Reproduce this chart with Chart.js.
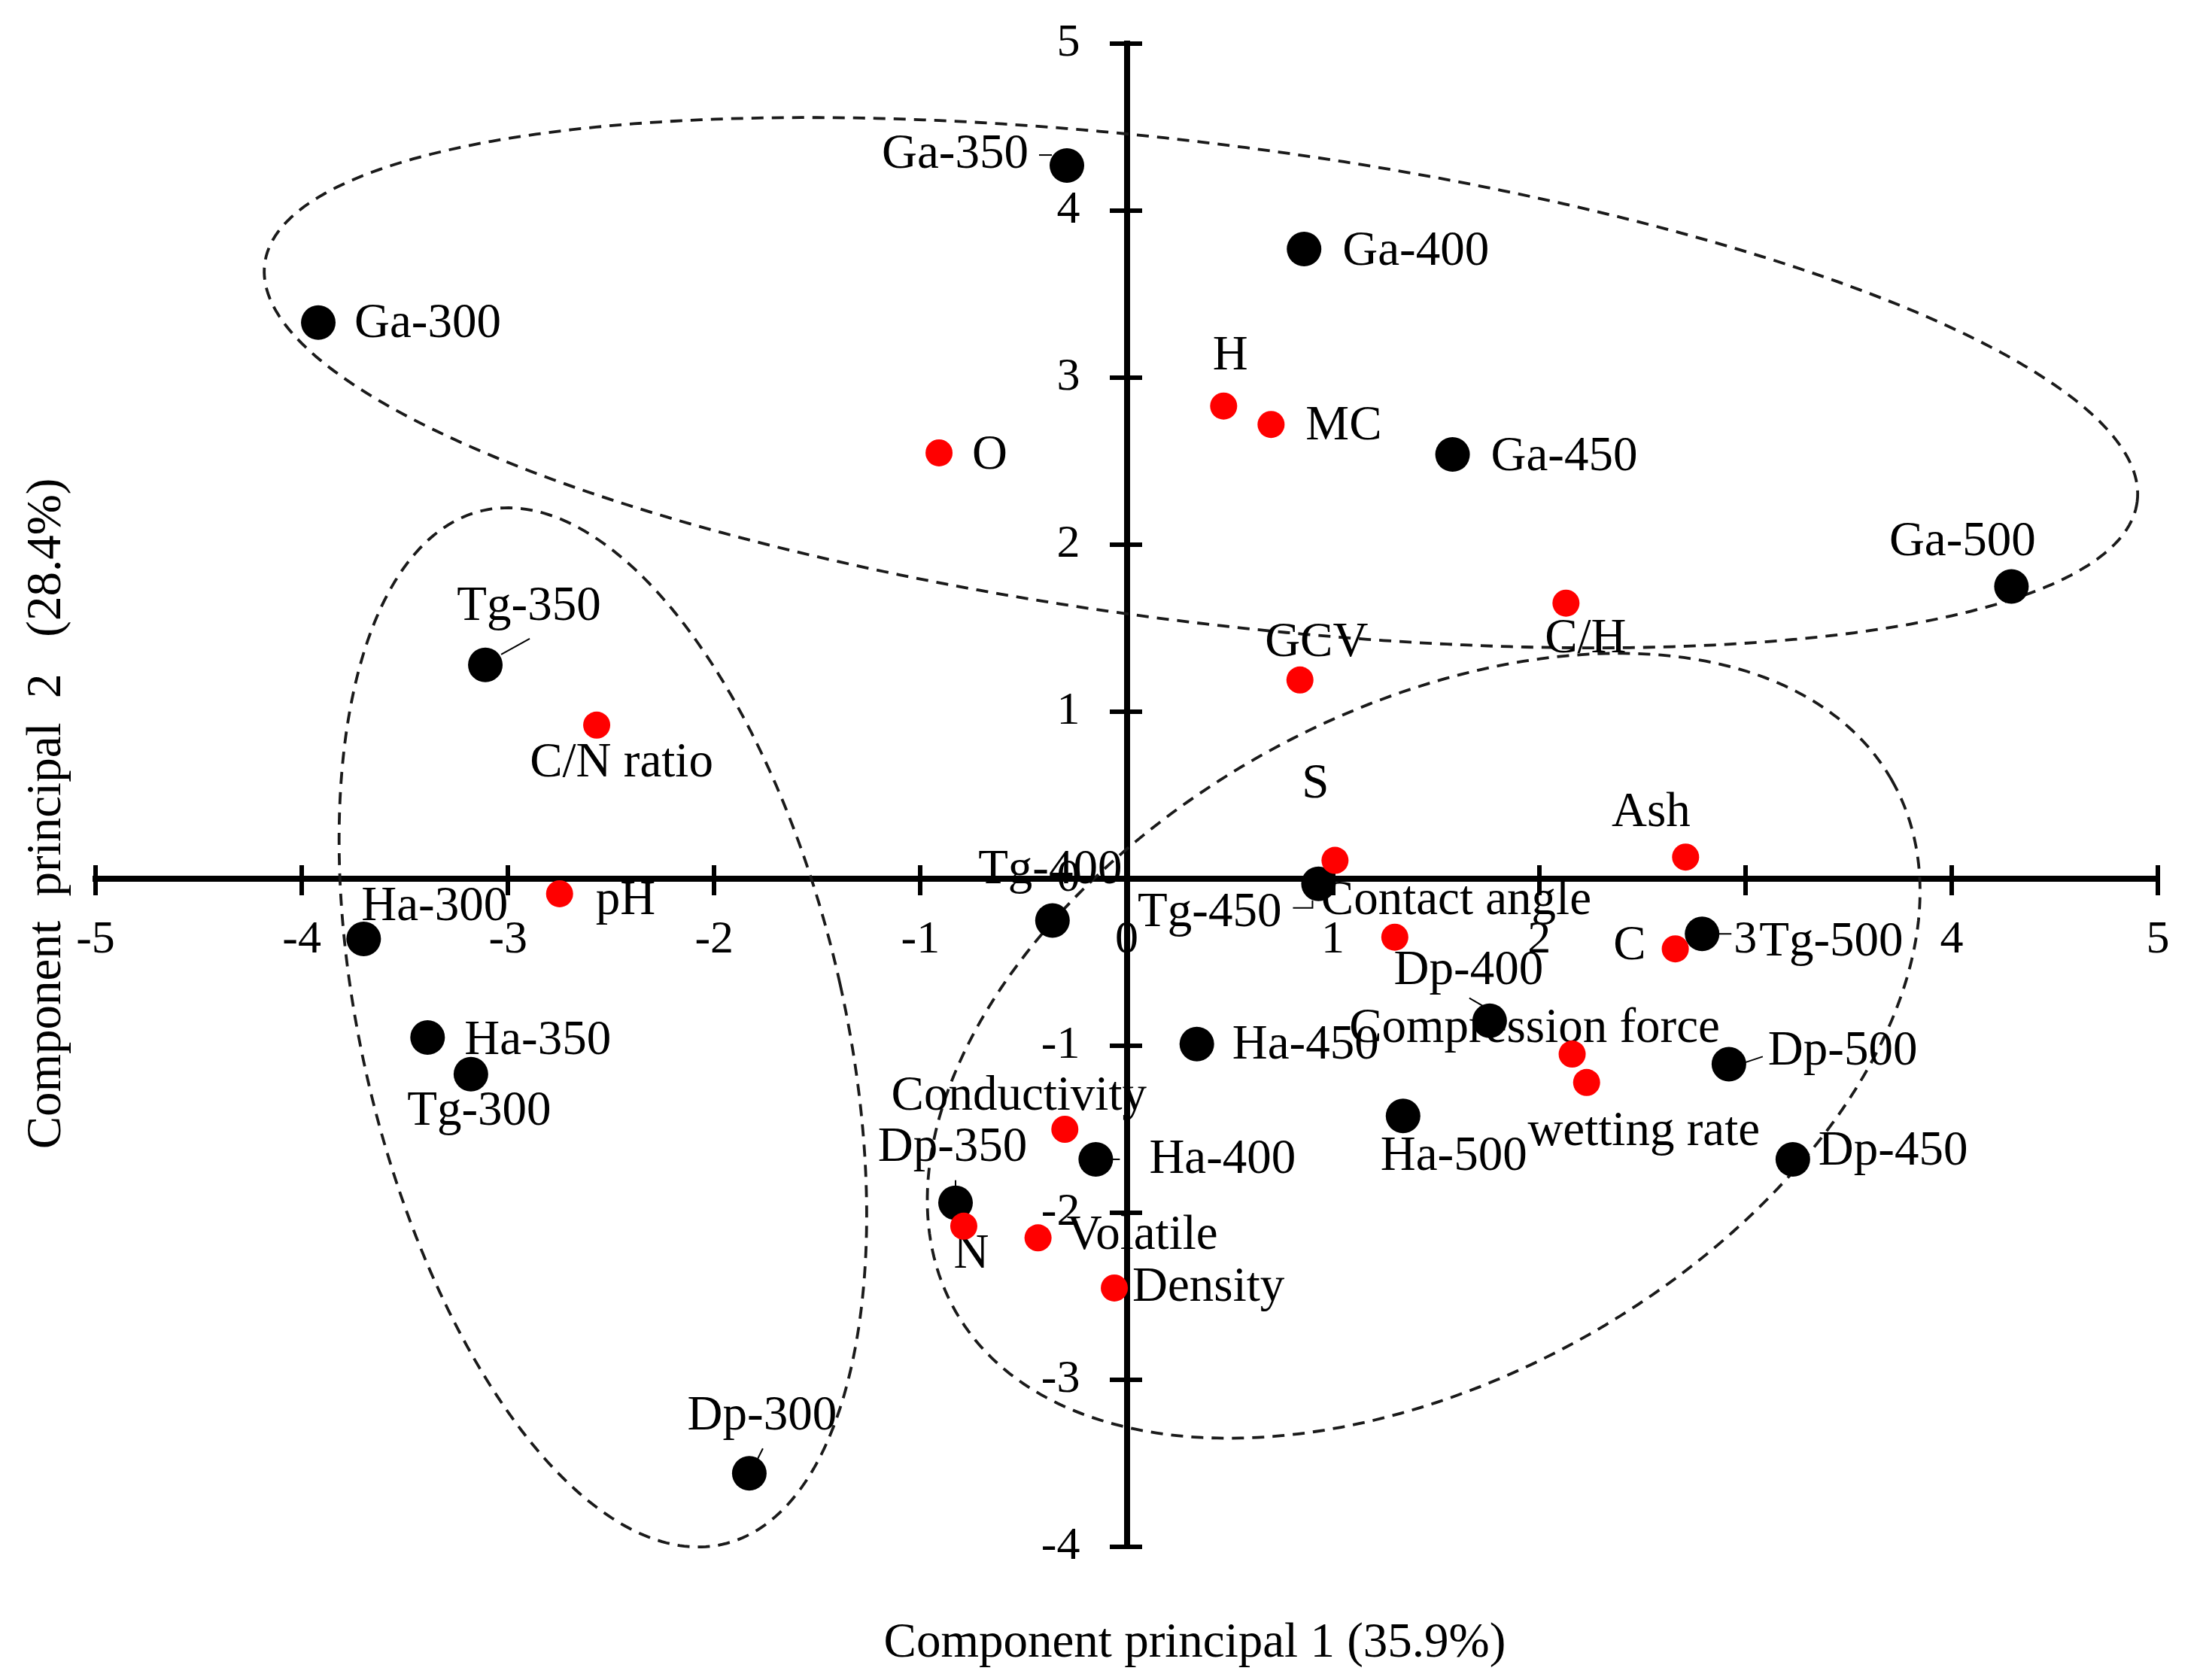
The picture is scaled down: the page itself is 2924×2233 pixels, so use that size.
<!DOCTYPE html>
<html><head>
<meta charset="utf-8">
<script src="https://cdn.jsdelivr.net/npm/chart.js"></script>
<title>PCA biplot</title>
<style>
html, body { margin: 0; padding: 0; background: #fff; }
#chart-container { width: 2924px; height: 2233px; position: relative; }
</style>
</head>
<body>
<div id="chart-container"><canvas id="chart"></canvas></div>
<script>
// samples (black dots): scores on PC1 / PC2
const sampleNames = ['Ga-300', 'Ga-350', 'Ga-400', 'Ga-450', 'Ga-500',
  'Tg-300', 'Tg-350', 'Tg-400', 'Tg-450', 'Tg-500',
  'Ha-300', 'Ha-350', 'Ha-400', 'Ha-450', 'Ha-500',
  'Dp-300', 'Dp-350', 'Dp-400', 'Dp-450', 'Dp-500'];
const sampleX = [-3.92, -0.29, 0.86, 1.58, 4.29,
  -3.18, -3.11, -0.36, 0.93, 2.79,
  -3.70, -3.39, -0.15, 0.34, 1.34,
  -1.83, -0.83, 1.76, 3.23, 2.92];
const sampleY = [3.33, 4.27, 3.77, 2.54, 1.75,
  -1.17, 1.28, -0.25, -0.03, -0.33,
  -0.36, -0.95, -1.68, -0.99, -1.42,
  -3.56, -1.94, -0.85, -1.68, -1.11];

// variables (red dots)
const varNames = ['H', 'MC', 'O', 'GCV', 'C/H', 'S', 'Ash', 'Contact angle', 'C',
  'Compression force', 'wetting rate', 'C/N ratio', 'pH', 'Conductivity', 'N', 'Volatile', 'Density'];
const varX = [0.47, 0.70, -0.91, 0.84, 2.13, 1.01, 2.71, 1.30, 2.66,
  2.16, 2.23, -2.57, -2.75, -0.30, -0.79, -0.43, -0.06];
const varY = [2.83, 2.72, 2.55, 1.19, 1.65, 0.11, 0.13, -0.35, -0.42,
  -1.05, -1.22, 0.92, -0.09, -1.50, -2.08, -2.15, -2.45];

// axis ranges / titles
const xRange = [-5, 5];
const yRange = [-4, 5];
const xTitle = 'Component principal 1 (35.9%)';
const yTitle = 'Component  principal  2   (28.4%)';

// dashed groupings: centre and two conjugate half-axes, in data units
const groups = [
  {cx: 0.36, cy: 2.97, ux: 4.54, uy: -0.71, vx: -0.14, vy: -1.42},
  {cx: -2.54, cy: -0.89, ux: 1.15, uy: 0.26, vx: 0.56, vy: -3.10},
  {cx: 1.44, cy: -1.00, ux: 2.27, uy: 1.59, vx: 0.80, vy: -1.73}
];

// label placement (pixel offsets from the dot, text alignment)
const sampleLabelPos = [
  [48, 2, 'left'], [-51, -14, 'right'], [51, 4, 'left'], [51, 4, 'left'], [-65, -59, 'center'],
  [11, 50, 'center'], [58, -77, 'center'], [-3, -67, 'center'], [-49, 39, 'right'], [76, 12, 'left'],
  [-3, -42, 'left'], [49, 5, 'left'], [71, 1, 'left'], [47, 2, 'left'], [-30, 55, 'left'],
  [17, -75, 'center'], [-4, -73, 'center'], [-28, -66, 'center'], [34, -10, 'left'], [52, -16, 'left']
];
const varLabelPos = [
  [9, -66, 'center'], [46, 3, 'left'], [44, 4, 'left'], [22, -49, 'center'], [26, 48, 'center'],
  [-26, -101, 'center'], [-46, -58, 'center'], [-98, -48, 'left'], [-39, -3, 'right'],
  [-50, -33, 'center'], [76, 66, 'center'], [33, 51, 'center'], [48, 10, 'left'],
  [-61, -43, 'center'], [10, 38, 'center'], [38, -2, 'left'], [24, 0, 'left']
];
// short leader strokes between some labels and their dots
const leaders = {
  'Ga-350': [[-37, -14], [-20, -14]],
  'Tg-350': [[21, -14], [59, -35]],
  'Tg-450': [[-34, 32], [-8, 32], [-8, 22]],
  'Tg-500': [[15, 0], [39, 0]],
  'Ha-400': [[20, 0], [32, 0]],
  'Dp-300': [[10, -17], [18, -33]],
  'Dp-350': [[0, -16], [0, -30]],
  'Dp-400': [[4, -12], [-27, -30]],
  'Dp-500': [[21, -2], [45, -10]]
};

const serif = 'Liberation Serif, Times New Roman, serif';

const overlay = {
  id: 'overlay',
  beforeDatasetsDraw(chart) {
    const ctx = chart.ctx;
    const xs = chart.scales.x, ys = chart.scales.y;

    ctx.save();
    ctx.strokeStyle = '#1a1a1a';
    ctx.lineWidth = 3.8;
    ctx.setLineDash([16, 11]);
    groups.forEach(g => {
      ctx.beginPath();
      for (let i = 0; i <= 360; i++) {
        const t = i * Math.PI / 180;
        const px = xs.getPixelForValue(g.cx + g.ux * Math.cos(t) + g.vx * Math.sin(t));
        const py = ys.getPixelForValue(g.cy + g.uy * Math.cos(t) + g.vy * Math.sin(t));
        if (i === 0) ctx.moveTo(px, py); else ctx.lineTo(px, py);
      }
      ctx.closePath();
      ctx.stroke();
    });
    ctx.restore();

    ctx.save();
    ctx.fillStyle = '#000';
    ctx.strokeStyle = '#000';
    ctx.lineWidth = 2;
    ctx.font = '65px ' + serif;
    ctx.textBaseline = 'middle';
    const drawLabels = (dsIndex, names, pos) => {
      chart.getDatasetMeta(dsIndex).data.forEach((pt, i) => {
        const [dx, dy, align] = pos[i];
        ctx.textAlign = align;
        ctx.fillText(names[i], pt.x + dx, pt.y + dy);
        const l = leaders[names[i]];
        if (l) {
          ctx.beginPath();
          l.forEach(([lx, ly], k) => k ? ctx.lineTo(pt.x + lx, pt.y + ly) : ctx.moveTo(pt.x + lx, pt.y + ly));
          ctx.stroke();
        }
      });
    };
    drawLabels(0, varNames, varLabelPos);
    drawLabels(1, sampleNames, sampleLabelPos);

    // axis titles
    ctx.textBaseline = 'alphabetic';
    ctx.textAlign = 'center';
    ctx.fillText(xTitle, xs.getPixelForValue(0.33), chart.chartArea.bottom + 146);
    ctx.translate(chart.chartArea.left - 47, ys.getPixelForValue(0.39));
    ctx.rotate(-Math.PI / 2);
    ctx.fillText(yTitle, 0, 0);
    ctx.restore();
  }
};

const tickFont = {family: serif, size: 62};
const tickGrid = len => ({drawOnChartArea: false, drawTicks: true, tickLength: len, lineWidth: 6, color: '#000'});

const chart = new Chart(document.getElementById('chart'), {
  type: 'scatter',
  data: {
    datasets: [{
      label: 'Variables',
      data: varX.map((x, i) => ({x, y: varY[i]})),
      xAxisID: 'x', yAxisID: 'y',
      backgroundColor: '#ff0000',
      borderWidth: 0,
      pointRadius: 18,
      pointHoverRadius: 18
    }, {
      label: 'Samples',
      data: sampleX.map((x, i) => ({x, y: sampleY[i]})),
      xAxisID: 'x', yAxisID: 'y',
      backgroundColor: '#000000',
      borderWidth: 0,
      pointRadius: 23,
      pointHoverRadius: 23
    }]
  },
  options: {
    responsive: true,
    maintainAspectRatio: false,
    devicePixelRatio: 1,
    animation: false,
    layout: {padding: {left: 127, right: 56, top: 58, bottom: 177}},
    plugins: {legend: {display: false}, tooltip: {enabled: false}},
    scales: {
      x: {
        type: 'linear', min: xRange[0], max: xRange[1],
        position: {y: 0},
        ticks: {stepSize: 1, font: tickFont, color: '#000', padding: 27, maxRotation: 0, autoSkip: false},
        grid: tickGrid(18),
        border: {display: true, width: 8, color: '#000'}
      },
      y: {
        type: 'linear', min: yRange[0], max: yRange[1],
        position: {x: 0},
        ticks: {stepSize: 1, font: tickFont, color: '#000', autoSkip: false,
          callback: v => v + '    '},
        grid: tickGrid(19),
        border: {display: true, width: 8, color: '#000'}
      },
      // companion axes that only carry the other half of each tick mark
      xUp: {
        type: 'linear', axis: 'x', min: xRange[0], max: xRange[1],
        position: {y: 18 / 222},
        ticks: {stepSize: 1, display: false},
        grid: tickGrid(18),
        border: {display: false}
      },
      yRight: {
        type: 'linear', axis: 'y', min: yRange[0], max: yRange[1],
        position: {x: 20 / 274},
        ticks: {stepSize: 1, display: false},
        grid: tickGrid(20),
        border: {display: false}
      }
    }
  },
  plugins: [overlay]
});
</script>
</body></html>
